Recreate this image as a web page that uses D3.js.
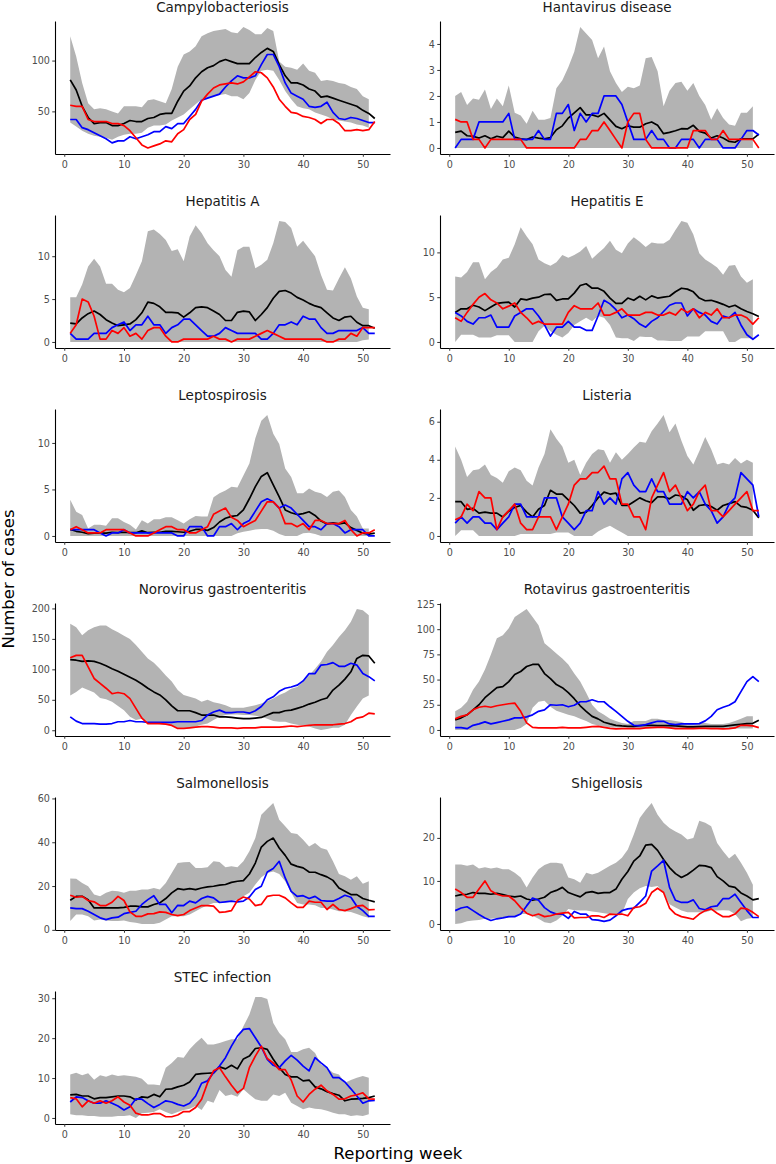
<!DOCTYPE html>
<html>
<head>
<meta charset="utf-8">
<script src="https://cdn.jsdelivr.net/npm/d3@7"></script>
<style>
  body { margin: 0; background: #fff; }
  text { font-family: "DejaVu Sans", sans-serif; }
</style>
</head>
<body>
<svg id="chart" width="776" height="1164"></svg>
<script>
// Weekly case counts per disease: grey band = min/max of past years (weeks 1-51),
// black = past mean, blue and red = the two seasons being compared.
const weeks = d3.range(1, 53)
const xTicks = [0, 10, 20, 30, 40, 50]

const campyHi = [124,104,78,58,52,53,52,50,48,55, 55,55,54,61,62,60,58,72,94,106, 109,114,124,127,129,130,131,128,127,133, 130,126,126,132,129,99,94,93,91,97, 90,88,80,81,80,78,77,74,72,65,62]
const campyLo = [39,35,31,28,26,25,24,22,25,27, 28,28,29,34,36,36,37,41,44,47, 52,57,62,63,65,66,67,65,65,62, 68,81,90,91,90,81,70,62,55,53, 52,49,47,45,42,41,40,39,37,36,34]
const campyMean = [81,71,55,44,38,39,39,36,36,38, 41,40,40,43,44,47,48,48,60,70, 75,83,89,93,95,99,101,99,97,97, 97,103,108,112,109,96,85,78,78,76, 72,70,64,65,63,61,59,57,55,51,48,43]
const campyBlue = [42,42,34,32,29,26,23,19,21,21, 25,23,25,27,30,30,35,33,38,38, 45,52,61,63,65,67,74,80,85,83, 83,85,96,106,106,94,78,68,65,62, 55,54,55,59,49,43,42,44,43,41,39,39]
const campyRed = [56,55,55,42,40,40,40,38,38,36, 31,24,17,14,16,18,21,20,28,32, 42,47,60,67,73,76,77,78,77,79, 84,89,88,83,74,62,55,49,48,45, 44,42,38,42,42,38,31,31,32,31,32,40]
const campyTicks = [50, 100]

const hantaHi = [2.0,2.15,1.65,1.9,1.85,2.25,1.5,1.9,1.6,2.4, 1.35,1.25,0.93,1.43,1.08,1.08,1.15,2.3,2.6,3.1, 3.7,4.65,4.4,4.15,3.45,3.9,2.95,2.5,2.15,2.35, 2.3,2.4,3.45,3.5,2.95,1.6,2.2,2.5,2.55,2.2, 2.5,2.0,1.65,1.08,1.53,1.15,0.9,0.85,1.35,1.35,1.6]
const hantaLo = [0,0,0,0,0,0,0,0,0,0, 0,0,0,0,0,0,0,0,0,0, 0,0,0,0,0,0,0,0,0,0, 0,0,0,0,0,0,0,0,0,0, 0,0,0,0,0,0,0,0,0,0,0]
const hantaMean = [0.6,0.65,0.47,0.45,0.38,0.47,0.35,0.45,0.4,0.65, 0.42,0.35,0.32,0.42,0.38,0.35,0.4,0.7,0.85,1.15, 1.35,1.55,1.27,1.27,1.2,1.33,1.08,0.83,0.74,0.85, 0.8,0.8,0.93,1.0,0.87,0.55,0.6,0.66,0.74,0.73, 0.87,0.64,0.57,0.38,0.47,0.38,0.25,0.22,0.35,0.35,0.35,0.53]
const hantaBlue = [0,0.33,0.33,0.33,1,1,1,1,1,1.33, 0.33,0.33,0.33,0.33,0.67,0.33,0.33,1.33,1.33,1.67, 0.67,1.33,1,1.33,1.33,2,2,2,1.67,1, 0.33,0.33,0.33,0.67,0.33,0.33,0,0,0.33,0.33, 0.33,0,0.33,0.33,0.33,0,0,0,0.33,0.67,0.67,0.5]
const hantaRed = [1.1,1,1,0.33,0.33,0,0.33,0.33,0.33,0.33, 0.33,0.33,0,0,0,0,0,0,0,0, 0,0.33,0.33,0.67,0.67,1,0.67,0.33,0,1, 1.33,1.33,0.33,0,0,0,0,0,0,0, 0.67,0.67,0.67,0.33,0.33,0.67,0.33,0.33,0.33,0.33,0.33,0]
const hantaTicks = [0, 1, 2, 3, 4]

const hepAHi = [5.2,5.2,6.7,8.8,9.7,8.8,6.8,6.8,6.1,5.8, 6.3,7.8,9.4,12.9,13.1,12.6,11.9,10.6,10.8,9.4, 12.3,13.6,12.7,11.5,10.7,10.0,8.4,7.6,10.7,11.1, 11.1,8.6,9.0,9.6,11.5,14.1,14.0,13.3,11.1,11.8, 10.9,10.0,7.8,6.1,6.0,7.4,8.7,7.4,5.3,4.0,3.8]
const hepALo = [0,0,0,0,0,0,0,0,0,0, 0,0,0,0,0,0,0,0,0,0, 0,0,0,0,0,0,0,0,0,0, 0,0,0,0,0,0,0,0,0,0, 0,0,0,0,0,0,0,0,0,0.2,0.3]
const hepAMean = [2.2,2.1,2.8,3.3,3.6,3.2,2.6,2.2,1.9,2.0, 2.1,2.6,3.4,4.65,4.5,4.1,3.45,3.45,3.4,2.9, 3.4,4.0,4.1,4.0,3.6,3.2,2.5,2.5,3.45,3.6, 3.5,2.5,3.2,4.0,5.1,5.9,6.0,5.7,5.2,4.9, 4.5,4.2,4.0,3.4,2.8,2.5,2.9,3.0,2.3,1.9,1.9,1.6]
const hepABlue = [1,0.33,0.33,0.33,1,1,1,1.67,2,2.33, 1.33,2,2,3,2,2,1,1.67,2,2.67, 2.67,2,1.33,0.67,0.67,1,1.67,1.33,1,1, 1,1,0.33,0.33,1,2,2,2.33,2,3, 2.67,2.67,1.67,1,1,1.33,1.33,1.33,1.33,1.67,1,1]
const hepARed = [1,2,5,4.67,3,0.33,0.33,1.33,1,1.67, 0.67,1,0.33,1.33,1.67,1.67,0.67,0,0,0.33, 0.33,0.33,0.33,0.33,0.67,0.33,0.33,0,0.33,0.33, 0.33,0.67,1,1.33,1,0.67,0.33,0.33,0.33,0.33, 0.33,0.33,0.33,0,0,0.33,0.33,1,0.67,1.67,1.67,1.67]
const hepATicks = [0, 5, 10]

const hepEHi = [7.3,7.2,7.8,8.9,8.9,7.0,7.8,8.3,9.2,9.4, 10.9,12.8,11.8,10.9,9.2,8.8,8.5,8.9,9.7,9.4, 9.7,10.1,10.7,9.3,9.9,10.5,11.3,10.3,9.9,11.0, 11.7,11.2,10.6,11.1,11.0,11.0,11.4,12.5,13.5,13.3, 12.0,9.9,9.2,8.8,8.3,7.5,8.5,8.6,7.3,6.6,7.0]
const hepELo = [0,0.8,0.8,0.8,0.5,0.5,0.5,0.75,0.75,0.75, 0,0,0,0,1.2,1.8,1.2,0.8,0.5,1.0, 1.9,2.3,2.7,2.3,2.9,2.7,1.9,0.5,0.4,0.4, 0.1,0.6,0.55,0.55,0.15,0.15,0.1,0.1,0.1,0.6, 0.6,0.6,1.2,1.2,1.2,1.2,0,0,0.4,0.4,0.4]
const hepEMean = [3.3,3.7,3.7,4.1,3.9,3.5,3.9,4.3,4.4,4.45, 3.9,4.8,4.7,4.9,5.0,5.3,5.35,4.65,4.8,4.8, 5.45,6.3,6.5,6.0,6.0,5.65,4.9,4.3,4.3,4.9, 4.65,5.1,4.7,5.15,4.9,5.0,5.1,5.6,6.0,5.9, 5.6,4.9,4.6,4.65,4.45,4.2,3.9,4.1,3.7,3.4,3.15,2.85]
const hepEBlue = [3.3,2.9,2.3,2.0,2.7,2.7,3.0,1.65,1.65,1.65, 2.9,3.3,3.7,3.7,2.9,1.9,0.65,1.65,1.65,2.3, 1.65,1.65,1.3,1.3,2.9,4.65,4.25,3.6,2.7,3.0, 2.6,2.0,1.65,2.3,2.7,3.4,4.1,4.35,4.35,2.9, 3.7,3.3,3.0,2.3,2.0,2.9,2.7,3.3,1.9,0.8,0.3,0.8]
const hepERed = [2.7,2.3,3.3,4.2,5.0,5.4,4.7,4.35,3.7,4.0, 4.35,3.3,2.7,2.0,2.3,2.0,2.0,2.0,2.0,3.3, 4.05,3.7,3.7,3.7,4.35,3.0,3.0,3.3,3.7,3.0, 3.0,3.0,3.3,3.3,3.0,3.0,3.3,3.0,3.7,3.3, 3.7,2.7,3.3,3.0,3.7,2.7,2.7,3.0,3.0,2.7,2.0,2.7]
const hepETicks = [0, 5, 10]

const leptoHi = [3.9,2.6,2.25,0.8,1.2,1.2,1.1,1.9,1.9,1.5, 1.2,0.7,1.7,1.35,1.8,1.8,2.0,2.0,1.7,1.35, 1.8,2.15,2.1,2.1,4.15,4.6,4.9,5.3,5.2,6.5, 7.8,10.5,12.4,13.0,11.0,9.9,7.25,6.35,4.6,4.6, 5.1,4.75,4.6,4.2,4.75,4.9,4.2,2.8,2.1,0.8,0.8]
const leptoLo = [0,0,0,0,0,0,0,0,0,0, 0,0,0,0,0,0,0,0,0,0, 0,0,0,0,0,0,0,0,0.3,0.45, 0.55,0.7,0.75,0.75,0.55,0.2,0,0,0,0.3, 0.35,0.2,0,0,0,0,0,0,0,0,0]
const leptoMean = [0.7,0.5,0.4,0.25,0.3,0.3,0.3,0.4,0.35,0.4, 0.35,0.35,0.55,0.35,0.4,0.4,0.5,0.5,0.45,0.4, 0.5,0.7,0.7,0.6,0.9,1.5,1.9,2.1,2.2,2.8, 4.0,5.3,6.4,6.8,5.5,4.2,2.8,2.5,2.3,2.4, 2.6,2.2,1.6,1.3,1.4,1.3,1.4,0.9,0.6,0.3,0.2,0.3]
const leptoBlue = [0.67,0.67,0.67,0.67,0.67,0.33,0,0.33,0.33,0.67, 0.33,0.33,0.33,0.33,0.33,0.33,0.33,0.33,0,0, 1,1,1,0,0,1,1,1.33,0.67,1.33, 1.67,2.67,3.67,4,3.67,3,3.33,3,2.33,1.67, 1,1,0.67,1.33,1.33,1,0.33,0.67,0.67,0.67,0,0]
const leptoRed = [0.67,1,0.67,0.33,0.33,0.33,0.67,0.67,0.67,0.67, 0.33,0,0,0,0.33,0.67,1,1,0.67,0.67, 0.33,0.33,0.67,1,2.33,2.67,3,2,1.67,1, 1.33,1.67,2.67,3.67,3.67,3,1.33,1.33,1,1.33, 0.67,1.67,1.67,1.33,1.33,1.33,1.67,0.67,0,0.33,0.33,0.67]
const leptoTicks = [0, 5, 10]

const listHi = [4.7,4.0,3.1,3.45,3.5,3.75,3.2,3.05,2.8,3.4, 3.6,3.45,2.9,2.65,3.6,4.3,5.6,5.1,4.7,3.85, 4.0,3.2,3.85,4.3,4.55,4.5,3.85,4.4,4.0,4.3, 4.65,4.95,4.9,5.5,5.9,6.35,5.45,5.9,5.0,4.2, 3.75,4.45,5.2,4.55,3.75,3.85,3.75,4.1,3.8,4.0,3.85]
const listLo = [0,0.3,0.3,0.3,0,0,0,0,0,0, 0,0.1,0.1,0.1,0.1,0.1,0.1,0.18,0.18,0.18, 0,0,0,0,0.23,0.4,0.53,0.35,0.18,0, 0,0,0,0,0,0,0,0,0,0, 0,0,0,0,0,0,0,0,0,0,0]
const listMean = [1.8,1.8,1.4,1.45,1.2,1.25,1.2,1.2,1.0,1.3, 1.5,1.6,1.25,1.0,1.4,1.6,2.4,2.2,2.2,1.9, 1.6,1.2,1.25,1.6,2.0,2.3,2.2,2.25,1.6,1.6, 1.8,2.0,1.85,1.75,2.05,2.05,1.95,2.15,2.1,1.9, 1.35,1.6,1.65,1.55,1.35,1.6,1.7,1.8,1.55,1.5,1.35,0.95]
const listBlue = [0.67,1,0.67,1,1,0.67,0.67,0.33,0.67,1, 1.67,1.67,1,1,1,2,2,2,1,0.67, 0.33,0.67,1.33,1.33,2.33,1.67,2,1.67,3,3.33, 2.67,2.33,2.33,3,2.33,2.33,1.67,1.67,1.67,2.33, 2,2.33,1.67,1.33,0.67,1,1.67,2,3.33,3,2.67,1]
const listRed = [0.85,1,1.67,1.33,2.33,2,2,0.33,1,1.33, 1.67,0.67,0.33,0.33,1,1,1,0.33,1,1.67, 2.67,3,3,3.33,3.33,3.67,3,3,1.67,1.67, 1,1,0.33,2,2.67,3.33,2.33,2.67,2,1.33, 1.67,2.33,2.67,1.33,1.33,1,1.33,1.67,2,2.33,1.33,1.33]
const listTicks = [0, 2, 4, 6]

const noroHi = [175,169,156,164,169,172,172,166,161,155, 150,140,129,118,111,101,90,80,66,58, 55,52,47,50,46,44,41,37,37,37, 39,41,44,48,52,58,62,68,71,80, 90,101,113,129,140,153,164,178,199,197,189]
const noroLo = [57,63,70,66,62,53,51,47,40,33, 22,17,19,14,11,10,9,8,4,4, 4,6,9,11,17,22,25,26,26,25, 25,24,22,19,15,14,14,11,9,8, 6,3,0.5,2,4,4,9,25,39,52,57]
const noroMean = [116,115,113,114,113,110,106,101,97,92, 87,82,76,69,63,58,50,40,32,32, 32,29,25,25,25,22,22,21,20,19, 19,20,21,25,29,29,32,33,36,39, 43,46,50,53,66,74,84,96,118,123,122,110]
const noroBlue = [22,15,11,11,11,10,10,11,14,14, 16,14,14,13,13,13,13,13,14,14, 14,14,16,25,30,33,29,29,30,30, 28,32,39,50,55,64,69,71,74,81, 93,93,107,108,111,105,105,110,107,93,88,81]
const noroRed = [119,123,123,104,85,77,69,60,62,60, 52,36,20,11,11,11,10,8,3,3, 4,5,6,6,5,4,4,4,3,4, 4,4,5,5,5,5,6,7,6,7, 8,9,9,9,9,10,11,14,20,22,28,27]
const noroTicks = [0, 50, 100, 150, 200]

const rotaHi = [18.5,22,28,40,48,60,75,91,94,101, 112,116,120,112,104,86,81,76,71,65, 56,48,37,25,18.5,15,11,9,7,6, 9,9,9,11,11,10,10,9,8,6, 6,7,7,6,6,6,7,9,11,13.5,13.5]
const rotaLo = [0,0,0,0,0,0,0,0,0,0, 0,2,6,22,28,29,23,19,17,15, 13.5,11,9,6,4.5,3.5,2.5,2.5,2.5,2.5, 2,2,2,2,2,2,2,2,2,2, 1.5,1.5,1.5,1.5,1.5,1.5,1.5,1.5,1.5,1.5,1.5]
const rotaMean = [10,12,15,20,25,32,37,42,43,48, 55,58,63,65,65,56,51,45,42,37, 31,24,18.5,13.5,11,7.6,6,4.6,4,3.6, 3.6,4.3,4.6,4.6,4.3,4.3,4.3,4,3.6,3, 3,3.3,3.6,3.6,3.6,3.6,4.3,5,5.6,6.3,6.6,9.6]
const rotaBlue = [2.3,2.3,1.3,4.6,6,8,6,7.3,8.6,10, 12,12,13,15,18.5,20,25,24.5,25,23, 24.5,28,28,30,28,28,23,18.5,13.5,8.6, 4.6,4.3,5.3,7,8.6,8.6,6,5.3,6,6, 6,6.3,9,13.5,20,22.5,24.5,28,38,48,53,48]
const rotaRed = [11,13.5,15,20,22.5,23.5,22.5,24,25,26, 26.7,18.5,7,2.6,2,2,2,2,2.6,2, 2,2,2.6,3.3,3.6,2.6,1.6,1,1.3,1.3, 1.3,1.3,2,2.3,2.6,2.6,2,1.3,1.3,1.3, 1.3,1.6,1.6,1.3,1.3,1,1.3,2,4.6,4.6,4,2.3]
const rotaTicks = [0, 25, 50, 75, 100, 125]

const salmHi = [23.4,23.3,21.4,19.9,16.1,15.3,16.9,17.9,17.6,16.9, 17.9,17.9,18.4,18.4,19.1,18.4,21.4,26,30.5,30.9, 31,28.3,28.3,28.6,31.3,31,28.6,29,28.6,31.3, 35.9,41.9,52.6,55.3,57.9,50.3,47.3,44.2,43.8,41.2, 38.1,39.7,37.4,36.6,31.3,25.5,24.5,22.9,24.5,21,22.2]
const salmLo = [4,7,7,6.2,4.3,4.7,4.3,4,4,4.3, 3.6,3.2,2.7,2.7,2.7,3.2,4.7,6.2,6.2,6.2, 7,8.5,10,11.2,12.3,12.3,13.1,13.4,13.8,15.3, 16.9,20.7,24,26,26.7,25.5,22.2,16.9,12.3,11.6, 11.6,11.2,10,10,9.3,8.5,8.5,8.2,7.3,6.2,5.5]
const salmMean = [13.5,15.3,15.3,13.8,10,10,10,10,10,10.3, 10.8,10.8,10.5,10.5,11.6,12.3,14.3,16.9,18.8,18.4, 18.8,18.4,19.1,19.6,19.9,20.4,20.7,21.7,22.2,22.5, 25.5,30.5,37.8,40.4,41.9,37.4,34,30,29,28.3, 26.4,26.3,25.2,24.2,22.6,19.1,17.6,16.1,16.1,14.3,13.5,12.8]
const salmBlue = [10,9.7,9.7,8.5,7,5.5,4.7,5.5,5.8,7.4, 8,8.5,11.6,13.8,15.6,11.6,11.6,7.8,11.2,11.1, 13.1,12.3,14.3,15.3,14.6,12.5,12.8,13.1,12.8,13.1, 15,18.4,19.9,26.4,28,31.3,23.7,17.6,15.3,15.6, 14.3,15.3,13.4,13.1,13.1,14.3,15.8,14.9,10.8,8.8,6.2,6.2]
const salmRed = [15.8,14.9,15.3,13.4,12.8,11.1,11.1,12.6,15.3,13.4, 8.2,6.2,6.2,7.3,7.4,8.2,8,7,6.5,7, 8.8,10,11.1,11.1,10.8,8,8.2,8.8,13.4,15, 14.1,11.1,11.6,15.3,15.8,15.8,14.6,12.3,10.3,10.3, 13.1,12.6,12.6,9.3,11.6,9.3,8.8,9.7,10.8,11.2,9.1,9.3]
const salmTicks = [0, 20, 40, 60]

const shigHi = [13.8,13.8,13.5,13.8,12.9,13.2,12.9,13.1,12.7,12.7, 11.9,10.8,8.5,10.8,12.7,13.7,14.2,14.2,14,10.8, 10.4,9.6,11.9,11.5,11.9,12.7,13.5,14.2,15.4,17.3, 20.8,24.6,26.5,28.1,25.4,23.5,22.3,21.5,20.8,19.6, 20,24,23.5,22.7,18.8,16.9,15.2,16.3,14.2,11.9,9.1]
const shigLo = [0,0.15,0.6,0.8,0.9,1.2,1.2,1.4,1.4,1.5, 1.8,2.3,2.3,1.9,1.2,0.4,0.15,0.8,1.9,3.5, 3.2,3.1,3.1,2.9,2.7,2.5,2.3,2.2,2.3,5.8, 7.3,8.3,8.8,8.6,8.8,7.3,4.6,3.8,3.1,2.7, 2.7,2.7,2.7,3.1,3.1,3.2,3.1,2.3,0.6,1.2,1.4]
const shigMean = [6.5,6.8,6.9,7.3,7.1,7.1,6.9,7.1,6.8,6.5, 6.3,6.5,5.8,5.5,5.8,6.2,7.3,7.8,8.5,7.3, 6.8,6.3,7.3,7.5,7.1,7.3,7.3,8.1,10.4,12.2, 14.6,15.8,18.3,18.5,17.1,15,13.1,11.7,10.8,11.5, 12.5,13.6,13.5,13.1,11,10,8.8,8.5,7.2,6.5,5.6,5.9]
const shigBlue = [3.1,3.7,4,3.1,2.2,1.4,0.8,1.2,1.4,1.7, 1.7,2.3,4.2,6,5.5,3.8,2.8,2.3,2.3,1.3, 2.9,2.3,2.3,1,0.9,0.6,0.9,1.9,3.1,3.5, 3.7,5,6.5,12.3,13.5,14.8,8.5,5.5,5,5, 5.6,3.6,3.3,4,4.2,5.9,5.9,6.9,5,3.1,1.5,1.5]
const shigRed = [8.1,7.3,6.2,6.2,8.1,10,7.7,6.9,6.5,6.5, 5.4,3.8,2.5,1.9,2.3,1.7,1.9,2.3,2.5,2.7, 1.4,1.5,1.5,1.9,1.9,1.5,2.3,2.2,2.3,1.9, 3.8,4,4.8,7.3,8.3,7.3,3.7,2.3,1.7,1.4, 1.1,2.3,3.1,3.5,2.5,1.7,1.7,2.3,3.7,3.5,2.7,1.7]
const shigTicks = [0, 10, 20]

const stecHi = [10.9,11.3,10.7,11.2,9.6,10.7,10.3,10.9,10.5,10.7, 10.5,10.3,9.8,8.4,8.4,8.2,12.6,13.8,15.3,15.1, 17.2,18.8,20.1,18.4,18.4,18.8,19.3,19.7,19.7,23, 25.9,30.3,30.3,29.8,23.8,21.3,19.7,16.5,16.5,17.2, 17.6,16.3,13.4,12.6,11.3,10.9,8.8,9.5,10.1,10.5,10.1]
const stecLo = [0.9,0.7,0.7,0.5,0.5,0.3,0.3,0.3,0.5,0.5, 0.7,0,1.2,1.3,1.5,2.2,1.5,0.9,1.5,2, 2.3,3,2,4.3,3.8,7,5.5,5.9,5.3,7.2, 5.9,4.7,4.3,4.3,5.9,5.5,6.3,3.8,3,2.2, 2.6,2.3,2.2,1.8,1.3,0.9,0.9,0.5,0.7,0.5,0.9]
const stecMean = [5.8,5.9,5.5,5.5,4.8,5.1,5.1,5.3,5.5,5.5, 5.3,4.5,5.3,5.1,5.9,5.3,7.2,7.3,7.8,8.2, 9,10.9,11.1,11.2,11.3,12.8,12.3,13.2,12.3,14.8, 15.5,17.4,17.6,17.2,14.7,12.6,10.9,10.3,10.3,9.3, 9.5,7.8,7.3,6.6,6.1,5.7,4.3,4.7,4.8,4.9,5.1,5.5]
const stecBlue = [4,5.3,5.1,4.3,3.7,3.7,4.3,3.7,3,2, 2.8,4.8,4.7,3.6,2.6,3.4,4.3,4,3.4,3, 3.7,5.5,8.7,9.3,11.3,13,15.1,18,20.5,22.2, 22.4,20.1,17.8,14.7,13.2,12.6,14.3,15.7,14.5,13, 11.8,15.1,13.8,12.6,10.1,10.1,9,7.3,5.5,3.7,4.3,4.4]
const stecRed = [5.1,4.8,2.8,4.3,3.7,4.3,3.7,4.3,5.3,4, 3.2,1.2,0.75,0.75,1.1,1.1,0.3,0.3,0.75,1.6, 1.6,2.6,4.7,8.8,11.8,12.6,10.3,8.2,6.3,7.4, 12.6,15.5,18,14.9,13.8,12.1,12.1,9.5,5.5,4, 5.9,7.2,8.2,6.8,5.9,4.7,4.8,5.5,5.8,6.3,4.8,4.7]
const stecTicks = [0, 10, 20, 30]

const panels = [
  { title: "Campylobacteriosis", lo: campyLo, hi: campyHi, mean: campyMean, blue: campyBlue, red: campyRed, ticks: campyTicks },
  { title: "Hantavirus disease", lo: hantaLo, hi: hantaHi, mean: hantaMean, blue: hantaBlue, red: hantaRed, ticks: hantaTicks },
  { title: "Hepatitis A", lo: hepALo, hi: hepAHi, mean: hepAMean, blue: hepABlue, red: hepARed, ticks: hepATicks },
  { title: "Hepatitis E", lo: hepELo, hi: hepEHi, mean: hepEMean, blue: hepEBlue, red: hepERed, ticks: hepETicks },
  { title: "Leptospirosis", lo: leptoLo, hi: leptoHi, mean: leptoMean, blue: leptoBlue, red: leptoRed, ticks: leptoTicks },
  { title: "Listeria", lo: listLo, hi: listHi, mean: listMean, blue: listBlue, red: listRed, ticks: listTicks },
  { title: "Norovirus gastroenteritis", lo: noroLo, hi: noroHi, mean: noroMean, blue: noroBlue, red: noroRed, ticks: noroTicks },
  { title: "Rotavirus gastroenteritis", lo: rotaLo, hi: rotaHi, mean: rotaMean, blue: rotaBlue, red: rotaRed, ticks: rotaTicks },
  { title: "Salmonellosis", lo: salmLo, hi: salmHi, mean: salmMean, blue: salmBlue, red: salmRed, ticks: salmTicks },
  { title: "Shigellosis", lo: shigLo, hi: shigHi, mean: shigMean, blue: shigBlue, red: shigRed, ticks: shigTicks },
  { title: "STEC infection", lo: stecLo, hi: stecHi, mean: stecMean, blue: stecBlue, red: stecRed, ticks: stecTicks }
]

const svg = d3.select("#chart")
const cols = [{ left: 55, right: 390 }, { left: 440, right: 774 }]
const rowTop = 21, rowStep = 194, panelH = 133

// ggplot-like 5% expansion on both axes
function expand([lo, hi]) {
  const pad = (hi - lo) * 0.05
  return [lo - pad, hi + pad]
}

function styleAxis(g) {
  g.select(".domain").attr("stroke", "#000").attr("stroke-width", 1.1)
  g.selectAll(".tick line").attr("stroke", "#333").attr("stroke-width", 1)
  g.selectAll(".tick text").attr("fill", "#4d4d4d").attr("font-size", "9.6px")
}

panels.forEach((p, i) => {
  const col = cols[i % 2]
  const top = rowTop + Math.floor(i / 2) * rowStep
  const bottom = top + panelH

  const x = d3.scaleLinear().domain(expand(d3.extent(weeks))).range([col.left, col.right])
  const all = [...p.lo, ...p.hi, ...p.mean, ...p.blue, ...p.red]
  const y = d3.scaleLinear().domain(expand(d3.extent(all))).range([bottom, top])

  const g = svg.append("g")
  const bandWeeks = weeks.slice(0, p.hi.length)

  // min-max band
  g.append("path")
    .datum(bandWeeks)
    .attr("fill", "#b3b3b3")
    .attr("d", d3.area()
      .x(w => x(w))
      .y0((w, j) => y(p.lo[j]))
      .y1((w, j) => y(p.hi[j])))

  const line = vals => d3.line().x(w => x(w)).y((w, j) => y(vals[j]))(weeks)

  ;[["mean", "#000"], ["blue", "#0000ff"], ["red", "#ff0000"]].forEach(([key, color]) => {
    g.append("path")
      .attr("fill", "none")
      .attr("stroke", color)
      .attr("stroke-width", 1.7)
      .attr("stroke-linejoin", "round")
      .attr("d", line(p[key]))
  })

  // axes
  g.append("g")
    .attr("transform", `translate(0,${bottom})`)
    .call(d3.axisBottom(x).tickValues(xTicks).tickFormat(d3.format("d"))
      .tickSize(2.75).tickSizeOuter(0).tickPadding(4.3))
    .call(styleAxis)

  g.append("g")
    .attr("transform", `translate(${col.left},0)`)
    .call(d3.axisLeft(y).tickValues(p.ticks).tickFormat(d3.format("d"))
      .tickSize(2.75).tickSizeOuter(0).tickPadding(2.3))
    .call(styleAxis)

  g.append("text")
    .attr("x", (col.left + col.right) / 2)
    .attr("y", top - 9)
    .attr("text-anchor", "middle")
    .attr("font-size", "13.5px")
    .attr("fill", "#1a1a1a")
    .text(p.title)
})

// Axis titles
svg.append("text")
  .attr("x", 398)
  .attr("y", 1159)
  .attr("text-anchor", "middle")
  .attr("font-size", "16.5px")
  .attr("fill", "#000")
  .text("Reporting week")

svg.append("text")
  .attr("transform", "translate(14,579) rotate(-90)")
  .attr("text-anchor", "middle")
  .attr("font-size", "16.5px")
  .attr("fill", "#000")
  .text("Number of cases")
</script>
</body>
</html>
